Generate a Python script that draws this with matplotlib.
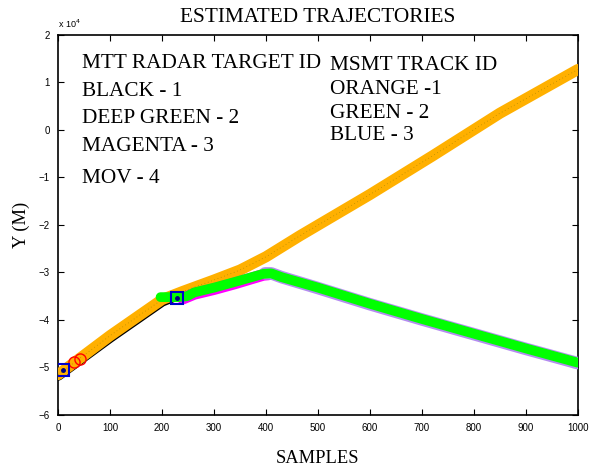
import numpy as np
import matplotlib
matplotlib.use("Agg")
from matplotlib import pyplot as plt

# MTT radar tracks (y in units of 1e4 m)
black_x = [0, 50, 100, 150, 200, 232]
black_y = [-5.17, -4.77, -4.37, -3.99, -3.61, -3.47]

orange_x = [0, 50, 100, 150, 200, 240, 300, 350, 400, 465, 600, 720, 850, 1000]
orange_y = [-5.15, -4.74, -4.33, -3.95, -3.57, -3.40, -3.16, -2.95, -2.67, -2.23, -1.36, -0.55, 0.35, 1.27]

magenta_x = [240, 262, 300, 340, 395, 405]
magenta_y = [-3.55, -3.45, -3.35, -3.23, -3.05, -3.04]

mov_x = [398, 410, 430, 500, 600, 700, 800, 900, 1000]
mov_y = [-3.02, -3.02, -3.10, -3.33, -3.67, -3.99, -4.30, -4.61, -4.91]

green_x = [197, 230, 248, 262, 300, 340, 395, 410, 430, 500, 600, 700, 800, 900, 1000]
green_y = [-3.52, -3.52, -3.50, -3.42, -3.32, -3.20, -3.03, -3.02, -3.10, -3.32, -3.66, -3.98, -4.29, -4.60, -4.90]

blue_x = [10, 228]
blue_y = [-5.05, -3.53]
red_x = [31, 41]
red_y = [-4.88, -4.82]

xticks = list(range(0, 1001, 100))
yticks = list(range(-6, 3))

serif = ["Liberation Serif", "DejaVu Serif"]
sans = ["Liberation Sans", "DejaVu Sans"]

fig = plt.figure(figsize=(6, 4.71), dpi=100)
ax = fig.add_axes([0.097, 0.119, 0.866, 0.807])

ax.plot(black_x, black_y, color="black", lw=7.5, solid_capstyle="round", zorder=2)
ax.plot(orange_x, orange_y, color="#ffb000", lw=8, solid_capstyle="round", zorder=3)
ax.plot(orange_x, orange_y, color="#9a8000", lw=0.5, ls=(0, (1, 4)), zorder=3.5)
ax.plot(magenta_x, magenta_y, color="#ff00ff", lw=8.5, solid_capstyle="round", zorder=4)
ax.plot(mov_x, mov_y, color="#b48cf0", lw=9, solid_capstyle="round", zorder=4)
ax.plot(green_x, green_y, color="#00ff00", lw=7, solid_capstyle="round", zorder=5)
ax.plot(red_x, red_y, "o", ms=8, mfc="none", mec="red", mew=1, zorder=6)
ax.plot(blue_x, blue_y, "s", ms=9, mfc="none", mec="#0000cc", mew=1.5, zorder=7)
ax.plot(blue_x, blue_y, ".", ms=5, color="#000080", zorder=7)

ax.set_xlim(0, 1000)
ax.set_ylim(-6, 2)
ax.set_xticks(xticks)
ax.set_yticks(yticks)
ax.tick_params(direction="in", top=True, right=True, length=4, width=0.8,
               labelsize=7, pad=6)
for lab in ax.get_xticklabels() + ax.get_yticklabels():
    lab.set_family(sans)
for s in ax.spines.values():
    s.set_linewidth(1.2)

ax.text(0.0, 1.012, "x 10$^4$", transform=ax.transAxes, fontsize=6.5,
        family=sans, ha="left", va="bottom")

ax.set_title("ESTIMATED TRAJECTORIES", family=serif, fontsize=15.3, pad=9)
ax.set_xlabel("SAMPLES", family=serif, fontsize=13.3, labelpad=12)
ax.set_ylabel("Y (M)", family=serif, fontsize=13.3, labelpad=6)

left_txt = ["MTT RADAR TARGET ID", "BLACK - 1", "DEEP GREEN - 2", "MAGENTA - 3", "MOV - 4"]
left_y = [0.925, 0.852, 0.779, 0.705, 0.623]
for t, yy in zip(left_txt, left_y):
    ax.text(0.046, yy, t, transform=ax.transAxes, family=serif, fontsize=15.3, va="center")

right_txt = ["MSMT TRACK ID", "ORANGE -1", "GREEN - 2", "BLUE - 3"]
right_y = [0.92, 0.855, 0.794, 0.734]
for t, yy in zip(right_txt, right_y):
    ax.text(0.523, yy, t, transform=ax.transAxes, family=serif, fontsize=15.3, va="center")

plt.savefig("out.png", dpi=100)
